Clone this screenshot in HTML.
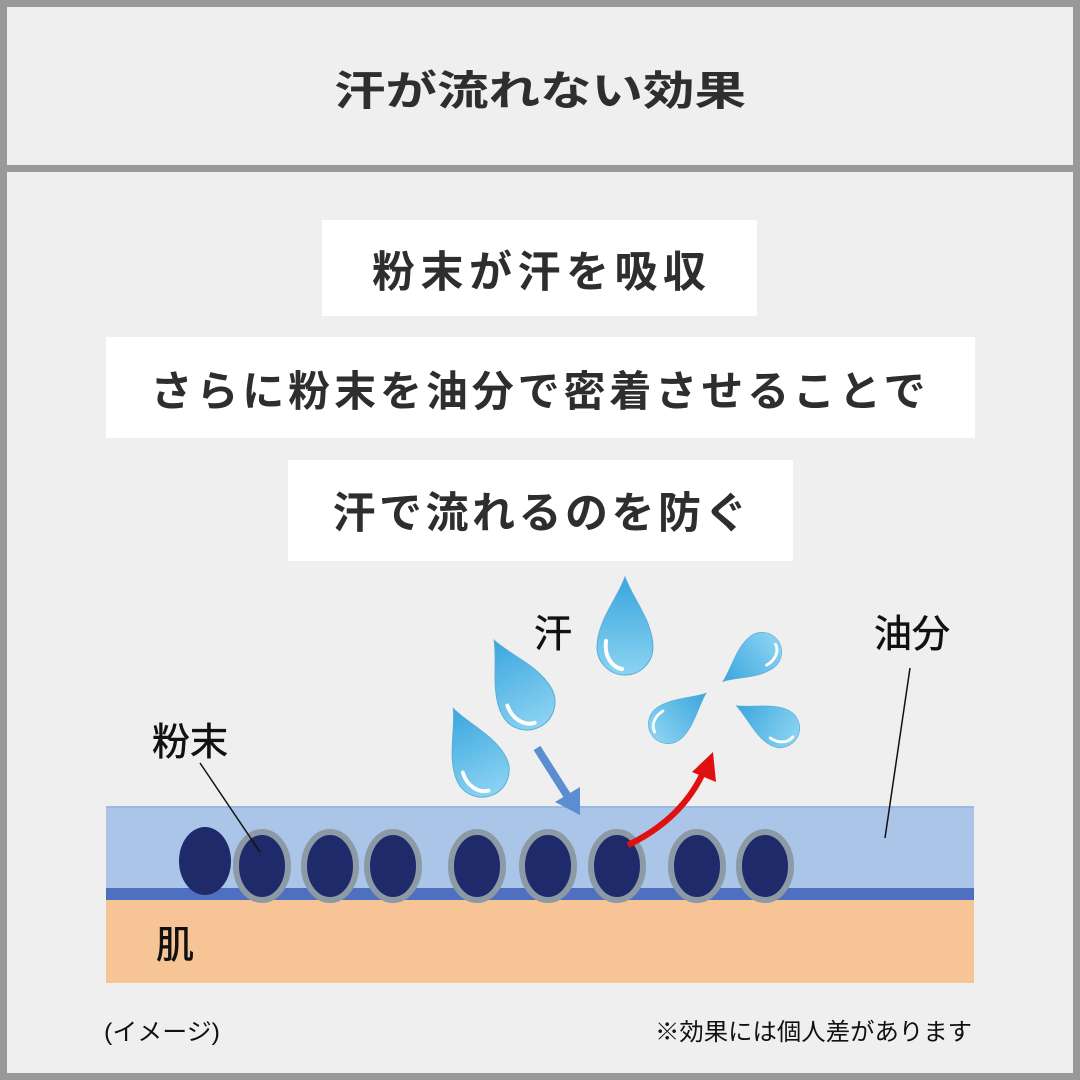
<!DOCTYPE html>
<html><head><meta charset="utf-8"><style>
html,body{margin:0;padding:0;background:#efefef}
svg{display:block}
text{font-family:"Liberation Sans","Noto Sans CJK JP",sans-serif;fill:#2e2e2e;font-weight:bold}
</style></head><body>
<svg width="1080" height="1080" viewBox="0 0 1080 1080" xmlns="http://www.w3.org/2000/svg">
<defs>
<linearGradient id="dg" x1="0" y1="0" x2="0" y2="1">
<stop offset="0" stop-color="#3aa6de"/><stop offset="1" stop-color="#8cd3f2"/>
</linearGradient>
<g id="drop">
<path d="M0,-70 C8,-48 28,-25 28,0 A28,28 0 0 1 -28,0 C-28,-25 -8,-48 0,-70Z" fill="url(#dg)" stroke="#5aaed8" stroke-width="1"/>
<path d="M-19,-6 C-21,8 -14,20 -3,22" fill="none" stroke="#fff" stroke-width="4" stroke-linecap="round"/>
</g>
</defs>
<rect x="0" y="0" width="1080" height="1080" fill="#efefef"/>
<rect x="3.5" y="3.5" width="1073" height="1073" fill="none" stroke="#999" stroke-width="7"/>
<rect x="0" y="165" width="1080" height="7" fill="#999"/>
<text x="540" y="105" font-size="41" text-anchor="middle" textLength="412" lengthAdjust="spacingAndGlyphs">汗が流れない効果</text>

<rect x="322" y="220" width="435" height="96" fill="#fff"/>
<text x="539" y="287" font-size="43" text-anchor="middle" textLength="334" lengthAdjust="spacing">粉末が汗を吸収</text>
<rect x="106" y="337" width="869" height="101" fill="#fff"/>
<text x="538" y="406" font-size="42" text-anchor="middle" textLength="775" lengthAdjust="spacing">さらに粉末を油分で密着させることで</text>
<rect x="288" y="460" width="505" height="101" fill="#fff"/>
<text x="540" y="528" font-size="43" text-anchor="middle" textLength="415" lengthAdjust="spacing">汗で流れるのを防ぐ</text>

<rect x="106" y="806" width="868" height="94" fill="#aac5e8"/>
<rect x="106" y="806" width="868" height="2" fill="#9bb8e0"/>
<rect x="106" y="888" width="868" height="12" fill="#4f6fc0"/>
<rect x="106" y="900" width="868" height="83" fill="#f7c496"/>

<g fill="#1e2a6a" stroke="#8c9aa6" stroke-width="6">
<ellipse cx="205" cy="861" rx="26" ry="34" stroke="none"/>
<ellipse cx="262" cy="866" rx="26" ry="34"/>
<ellipse cx="330" cy="866" rx="26" ry="34"/>
<ellipse cx="393" cy="866" rx="26" ry="34"/>
<ellipse cx="477" cy="866" rx="26" ry="34"/>
<ellipse cx="548" cy="866" rx="26" ry="34"/>
<ellipse cx="617" cy="866" rx="26" ry="34"/>
<ellipse cx="697" cy="866" rx="26" ry="34"/>
<ellipse cx="765" cy="866" rx="26" ry="34"/>
</g>

<use href="#drop" transform="translate(625,647)"/>
<use href="#drop" transform="translate(527,702) rotate(-28)"/>
<use href="#drop" transform="translate(482,770) rotate(-25) scale(0.97)"/>
<use href="#drop" transform="translate(762,652) rotate(-127) scale(0.7)"/>
<use href="#drop" transform="translate(668,724) rotate(51) scale(0.7)"/>
<use href="#drop" transform="translate(780,728) rotate(-63) scale(0.7)"/>

<line x1="537" y1="748" x2="570" y2="800" stroke="#5b8ed0" stroke-width="8"/>
<path d="M555,802 L580,815 L580,787Z" fill="#5b8ed0"/>
<path d="M628,845 Q680,820 702,775" fill="none" stroke="#e01010" stroke-width="6"/>
<path d="M692,772 L713,752 L716,782Z" fill="#e01010"/>

<line x1="200" y1="763" x2="260" y2="852" stroke="#111" stroke-width="1.5"/>
<line x1="910" y1="668" x2="885" y2="838" stroke="#111" stroke-width="1.5"/>

<text x="553" y="647" font-size="38" text-anchor="middle" style="font-weight:normal;fill:#111;stroke:#111;stroke-width:0.6">汗</text>
<text x="912" y="647" font-size="38" text-anchor="middle" style="font-weight:normal;fill:#111;stroke:#111;stroke-width:0.6">油分</text>
<text x="190" y="755" font-size="38" text-anchor="middle" style="font-weight:normal;fill:#111;stroke:#111;stroke-width:0.6">粉末</text>
<text x="175" y="958" font-size="38" text-anchor="middle" style="font-weight:normal;fill:#111;stroke:#111;stroke-width:0.6">肌</text>
<text x="104" y="1040" font-size="24" textLength="116" lengthAdjust="spacingAndGlyphs" style="font-weight:normal;fill:#111">(イメージ)</text>
<text x="655" y="1040" font-size="24" textLength="317" lengthAdjust="spacingAndGlyphs" style="font-weight:normal;fill:#111">※効果には個人差があります</text>
</svg>
</body></html>
